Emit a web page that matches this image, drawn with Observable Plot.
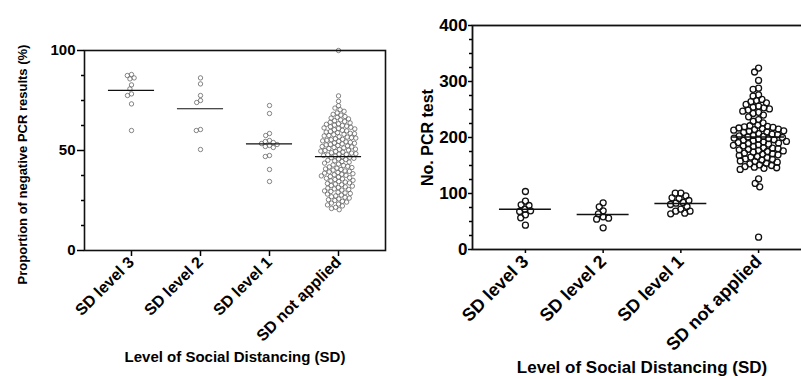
<!DOCTYPE html>
<html>
<head>
<meta charset="utf-8">
<script src="https://cdn.jsdelivr.net/npm/d3@7"></script>
<script src="https://cdn.jsdelivr.net/npm/@observablehq/plot@0.6"></script>
<style>
  html, body { margin: 0; padding: 0; background: #fff; }
  #wrap { position: relative; width: 801px; height: 379px; overflow: hidden; background: #fff; }
  .panel { position: absolute; top: 0; height: 379px; }
  .panel > svg { position: absolute; left: 0; top: 0; max-width: none !important; }
  #left { left: 0; width: 400px; }
  #right { left: 400px; width: 420px; }
</style>
</head>
<body>
<div id="wrap"><div id="left" class="panel"></div><div id="right" class="panel"></div></div>
<script>
// ---- Data ----
const categories = ["SD level 3", "SD level 2", "SD level 1", "SD not applied"];

// Left panel: proportion of negative PCR results (%)
const negSD3 = [88, 87.5, 86.3, 85.8, 82.8, 80.8, 78.3, 77.5, 73.3, 60];
const negSD2 = [86.3, 83.3, 77.5, 75, 74, 60.5, 60, 50.5];
const negSD1 = [72.5, 68.5, 58.5, 57.5, 55, 54.5, 54, 53.5, 53, 52.5, 52, 51.5, 47.5, 47, 40.5, 34.5];
const negNone = [100, 77.3, 74.6, 72.4, 71.2, 70.4, 69.6, 68.8, 68.1, 67.7, 67.0, 66.6, 66.2,
  65.8, 65.3, 64.9, 64.5, 64.1, 63.8, 63.4, 63.1, 62.7, 62.5, 62.2,
  61.9, 61.6, 61.3, 61.0, 60.8, 60.4, 60.1, 59.8, 59.5, 59.2, 58.9, 58.6, 58.4, 58.1,
  57.9, 57.5, 57.3, 56.9, 56.7, 56.4, 56.2, 55.9, 55.6, 55.4, 55.1, 54.8, 54.6, 54.3, 54.1,
  53.8, 53.6, 53.3, 53.0, 52.8, 52.5, 52.3, 52.0, 51.8, 51.5, 51.3, 51.0, 50.7, 50.5, 50.2, 50.0,
  49.7, 49.5, 49.2, 48.9, 48.7, 48.4, 48.2, 48.0, 47.8, 47.5, 47.2, 46.9, 46.6, 46.4, 46.1,
  45.8, 45.5, 45.1, 44.8, 44.5, 44.2, 43.7, 43.2, 42.8, 42.5, 42.1,
  41.8, 41.5, 41.2, 40.8, 40.5, 40.2, 39.8, 39.6, 39.3, 39.0, 38.7, 38.4, 38.1,
  37.9, 37.6, 37.3, 37.0, 36.7, 36.4, 36.1, 35.8, 35.5, 35.1, 34.8, 34.5, 34.2,
  33.8, 33.5, 33.2, 32.9, 32.5, 32.2, 31.8, 31.5, 31.2, 30.8, 30.5, 30.2,
  29.8, 29.5, 29.1, 28.8, 28.5, 28.2, 27.7, 27.3, 26.9, 26.6, 26.2,
  25.8, 25.4, 25.0, 24.6, 24.2, 23.7, 23.2, 22.8, 22.3, 21.6, 21.0, 20.4];

// Right panel: number of PCR tests
const pcrSD3 = [103.6, 86.3, 79.8, 78.6, 72, 69, 67.9, 62, 56.6, 43.4];
const pcrSD2 = [83.4, 76.2, 69, 63.7, 58.4, 56, 54.2, 38.7];
const pcrSD1 = [100.5, 100.5, 95.9, 92.3, 91, 87.5, 84, 82.7, 80.4, 76.8, 72, 68.4, 68.4, 64.8, 63.7];
const pcrNone = [324, 317, 302, 288, 286, 276, 274,
  268, 266, 264, 262, 259, 256, 254, 253, 251, 249, 247, 245, 243, 240, 237,
  232, 229, 226,
  222, 221, 220, 219, 218, 217, 216, 215, 214, 213, 212, 211, 210, 209,
  207, 206, 205, 204, 203, 202, 201, 200, 199, 198, 197, 196, 195, 194, 193, 192, 191, 190, 189, 188, 187, 186,
  185, 184, 182, 181, 180, 179, 178, 177, 176, 175, 174, 172, 171, 170, 169, 168, 166, 165, 164, 162, 161,
  160, 158, 157, 156, 154, 153, 151, 150, 148, 147, 146, 145, 143,
  126, 118, 112, 22];

const leftTicks = [0, 50, 100];
const leftMinor = [12.5, 25, 37.5, 62.5, 75, 87.5];
const rightTicks = [0, 100, 200, 300, 400];
const rightMinor = [25, 50, 75, 125, 150, 175, 225, 250, 275, 325, 350, 375];

const leftYLabel = "Proportion of negative PCR results (%)";
const rightYLabel = "No. PCR test";
const xLabel = "Level of Social Distancing (SD)";

const leftSeries = [negSD3, negSD2, negSD1, negNone];
const rightSeries = [pcrSD3, pcrSD2, pcrSD1, pcrNone];
const leftData = categories.flatMap((c, i) => leftSeries[i].map(v => ({cat: c, v})));
const rightData = categories.flatMap((c, i) => rightSeries[i].map(v => ({cat: c, v})));

const font = "'Liberation Sans', Arial, Helvetica, sans-serif";
const style = {fontFamily: font, fontWeight: "bold", color: "#000", background: "transparent"};

function panel(el, {width, height, marginLeft, marginRight, marginTop, marginBottom, data, yDomain,
                ticks, minor, yLabel, dot, mean, tick, text}) {
  const dims = {width, height, marginLeft, marginRight, marginTop, marginBottom};
  // data layer: one facet per category, dots swarmed within each facet
  const dataLayer = Plot.plot({
    ...dims, style,
    fx: {domain: categories, paddingInner: 0.1, paddingOuter: 0.231, round: false, axis: null, label: null},
    y: {domain: yDomain, axis: null},
    marks: [
      Plot.axisFx({anchor: "bottom", tickSize: tick.xSize, tickRotate: -45, tickPadding: tick.xPad, fontSize: text.xTick, label: null, strokeWidth: 1.5}),
      Plot.dot(data, Plot.dodgeX({anchor: "middle", padding: dot.padding}, {fx: "cat", y: "v", r: dot.r, stroke: dot.stroke, strokeWidth: dot.sw, fill: "none"})),
      Plot.tickY(data, Plot.groupZ({y: "mean"}, {fx: "cat", y: "v", insetLeft: mean.inset, insetRight: mean.inset, stroke: "#111", strokeWidth: mean.sw}))
    ]
  });
  // frame layer: box, y axis and titles over the whole plot area
  const frameLayer = Plot.plot({
    ...dims, style,
    y: {domain: yDomain, axis: null},
    marks: [
      Plot.frame({stroke: "#111", strokeWidth: tick.frameWidth}),
      Plot.axisY(minor, {anchor: "left", tickSize: 3, tickFormat: () => "", label: null, strokeWidth: 1.5}),
      Plot.axisY(ticks, {anchor: "left", tickSize: tick.ySize, tickPadding: tick.yPad, fontSize: text.yTick, label: null, strokeWidth: 1.5}),
      Plot.text([xLabel], {frameAnchor: "bottom", dy: text.xTitleDy, text: d => d, fontSize: text.xTitle, lineAnchor: "middle"}),
      Plot.text([yLabel], {frameAnchor: "left", textAnchor: "middle", dx: text.yTitleDx, dy: text.yTitleDy, rotate: -90, text: d => d, fontSize: text.yTitle})
    ]
  });
  el.appendChild(dataLayer);
  el.appendChild(frameLayer);
}

panel(document.getElementById("left"), {
  width: 400, height: 379, marginLeft: 84, marginRight: 15, marginTop: 50, marginBottom: 129,
  data: leftData, yDomain: [0, 100], ticks: leftTicks, minor: leftMinor, yLabel: leftYLabel,
  dot: {r: 2.2, stroke: "#666", sw: 0.8, padding: -0.1},
  mean: {inset: 8, sw: 1.2},
  tick: {frameWidth: 1.6, ySize: 7, yPad: 2, xSize: 6, xPad: 3},
  text: {yTick: 15, xTick: 16, xTitle: 15, xTitleDy: 107, yTitle: 13, yTitleDx: -62, yTitleDy: 14}
});

panel(document.getElementById("right"), {
  width: 420, height: 379, marginLeft: 72, marginRight: 9, marginTop: 25, marginBottom: 130,
  data: rightData, yDomain: [0, 400], ticks: rightTicks, minor: rightMinor, yLabel: rightYLabel,
  dot: {r: 3, stroke: "#111", sw: 1.3, padding: -0.4},
  mean: {inset: 9, sw: 1.5},
  tick: {frameWidth: 1.8, ySize: 4, yPad: 1, xSize: 4, xPad: 5},
  text: {yTick: 17, xTick: 18, xTitle: 17, xTitleDy: 118, yTitle: 16, yTitleDx: -45, yTitleDy: 0}
});
</script>
</body>
</html>
